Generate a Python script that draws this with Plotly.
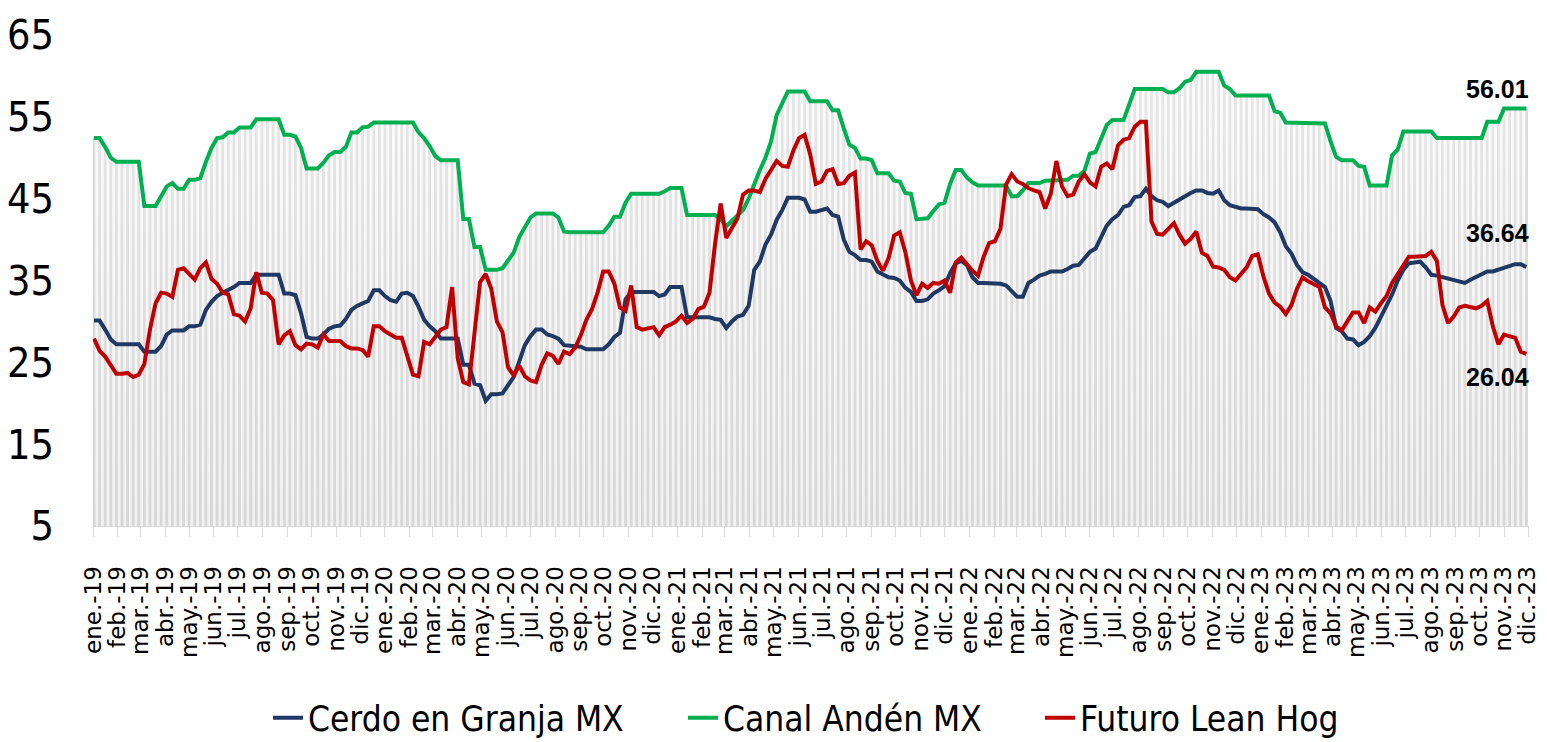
import pandas as pd
import plotly.graph_objects as go

# ---------------- data ----------------
start_date = "2019-01-02"
n_weeks = 257

canal_anden = [
    52.4, 52.4, 51.3, 50.0, 49.5, 49.5, 49.5, 49.5, 49.5, 44.1,
    44.1, 44.1, 45.3, 46.5, 46.9, 46.2, 46.2, 47.3, 47.3, 47.5,
    49.5, 51.2, 52.4, 52.5, 53.1, 53.1, 53.7, 53.7, 53.7, 54.7,
    54.7, 54.7, 54.7, 54.7, 52.8, 52.8, 52.6, 51.2, 48.7, 48.7,
    48.7, 49.4, 50.3, 50.7, 50.7, 51.3, 53.1, 53.1, 53.7, 53.8,
    54.3, 54.3, 54.3, 54.3, 54.3, 54.3, 54.3, 54.3, 53.1, 52.4,
    51.4, 50.2, 49.7, 49.7, 49.7, 49.7, 42.5, 42.5, 39.1, 39.1,
    36.3, 36.3, 36.3, 36.5, 37.4, 38.4, 40.3, 41.6, 42.7, 43.2,
    43.2, 43.2, 43.2, 42.7, 41.0, 40.9, 40.9, 40.9, 40.9, 40.9,
    40.9, 40.9, 41.7, 42.8, 42.8, 44.5, 45.6, 45.6, 45.6, 45.6,
    45.6, 45.6, 45.9, 46.3, 46.3, 46.3, 43.0, 43.0, 43.0, 43.0,
    43.0, 43.0, 42.5, 41.6, 42.3, 43.0, 43.6, 45.0, 46.8, 48.5,
    50.0, 52.0, 55.2, 56.7, 58.1, 58.1, 58.1, 58.1, 56.9, 56.9,
    56.9, 56.9, 55.8, 55.8, 53.6, 51.6, 51.2, 49.9, 49.9, 49.7,
    48.1, 48.1, 48.1, 47.2, 47.1, 45.7, 45.6, 42.5, 42.5, 42.6,
    43.5, 44.3, 44.5, 46.8, 48.5, 48.5, 47.6, 47.0, 46.6, 46.6,
    46.6, 46.6, 46.6, 46.6, 45.3, 45.3, 46.0, 46.9, 46.9, 46.9,
    47.2, 47.2, 47.2, 47.2, 47.3, 47.8, 47.8, 48.4, 50.5, 50.7,
    52.5, 54.0, 54.6, 54.6, 54.6, 56.5, 58.4, 58.4, 58.4, 58.4,
    58.4, 58.4, 58.0, 58.0, 58.5, 59.3, 59.5, 60.5, 60.5, 60.5,
    60.5, 60.5, 58.8, 58.4, 57.6, 57.6, 57.6, 57.6, 57.6, 57.6,
    57.6, 55.7, 55.5, 54.3, 54.3, 54.3, 54.3, 54.3, 54.3, 54.3,
    54.2, 52.0, 50.1, 49.7, 49.7, 49.7, 49.0, 48.9, 46.6, 46.6,
    46.6, 46.6, 50.3, 51.0, 53.2, 53.2, 53.2, 53.2, 53.2, 53.2,
    52.4, 52.4, 52.4, 52.4, 52.4, 52.4, 52.4, 52.4, 52.4, 54.4,
    54.4, 54.4, 56.01, 56.01, 56.01, 56.01, 56.01,
]

cerdo_granja = [
    30.1, 30.1, 29.0, 27.8, 27.2, 27.2, 27.2, 27.2, 27.2, 26.3,
    26.3, 26.3, 27.0, 28.4, 28.9, 28.9, 28.9, 29.4, 29.4, 29.6,
    31.4, 32.4, 33.1, 33.5, 33.8, 34.2, 34.7, 34.7, 34.7, 35.7,
    35.7, 35.7, 35.7, 35.7, 33.4, 33.4, 33.2, 31.0, 28.1, 27.9,
    27.9, 28.4, 29.1, 29.4, 29.5, 30.3, 31.4, 31.9, 32.2, 32.5,
    33.8, 33.8, 33.1, 32.6, 32.4, 33.4, 33.5, 33.1, 31.8, 30.2,
    29.4, 28.8, 27.9, 27.9, 27.9, 27.9, 24.7, 24.7, 22.4, 22.2,
    20.3, 21.1, 21.1, 21.2, 22.2, 23.2, 25.1, 27.1, 28.2, 29.0,
    29.0, 28.4, 28.2, 27.9, 27.1, 27.0, 26.9, 26.9, 26.6, 26.6,
    26.6, 26.6, 27.2, 28.1, 28.6, 32.7, 33.6, 33.6, 33.6, 33.6,
    33.6, 33.1, 33.3, 34.2, 34.2, 34.2, 30.5, 30.5, 30.5, 30.5,
    30.5, 30.3, 30.2, 29.2, 30.0, 30.6, 30.8, 31.9, 36.3, 37.3,
    39.4, 40.6, 42.4, 43.6, 45.1, 45.1, 45.1, 44.9, 43.4, 43.4,
    43.6, 43.8, 43.0, 42.8, 40.0, 38.5, 38.1, 37.5, 37.5, 37.3,
    36.1, 35.8, 35.4, 35.3, 35.0, 34.1, 33.6, 32.5, 32.5, 32.7,
    33.4, 33.8, 34.3, 35.9, 37.1, 37.4, 36.9, 35.4, 34.7, 34.7,
    34.7, 34.6, 34.6, 34.4, 33.7, 33.0, 33.0, 34.7, 35.1, 35.6,
    35.8, 36.1, 36.1, 36.1, 36.4, 36.8, 36.9, 37.7, 38.5, 38.9,
    40.3, 41.7, 42.5, 43.0, 44.0, 44.2, 45.2, 45.3, 46.2, 45.3,
    44.8, 44.6, 44.1, 44.5, 45.0, 45.4, 45.7, 46.0, 46.0, 45.7,
    45.6, 46.0, 44.8, 44.2, 44.0, 43.8, 43.8, 43.8, 43.7, 43.1,
    42.7, 42.1, 40.9, 39.2, 38.3, 36.9, 36.0, 35.7, 35.2, 34.8,
    34.2, 32.5, 29.2, 28.8, 27.9, 27.8, 27.1, 27.5, 28.2, 29.2,
    30.5, 31.8, 33.3, 35.0, 36.3, 37.1, 37.2, 37.3, 36.6, 35.7,
    35.6, 35.4, 35.2, 35.0, 34.8, 34.7, 35.1, 35.4, 35.8, 36.1,
    36.1, 36.3, 36.5, 36.8, 37.0, 37.0, 36.64,
]

futuro_lean_hog = [
    27.9, 26.4, 25.7, 24.6, 23.6, 23.6, 23.7, 23.2, 23.5, 24.8,
    29.0, 32.2, 33.5, 33.4, 33.0, 36.3, 36.5, 35.8, 35.1, 36.5,
    37.2, 35.2, 34.6, 33.5, 33.3, 30.9, 30.7, 30.0, 31.6, 36.0,
    33.5, 33.4, 32.6, 27.2, 28.3, 28.8, 27.1, 26.6, 27.3, 27.2,
    26.8, 28.4, 27.6, 27.6, 27.6, 27.0, 26.7, 26.7, 26.5, 25.7,
    29.4, 29.4, 28.8, 28.4, 28.0, 28.0, 25.9, 23.5, 23.3, 27.5,
    27.2, 28.2, 29.0, 29.3, 34.2, 25.5, 22.6, 22.3, 28.5, 34.8,
    35.8, 34.0, 30.0, 28.7, 24.4, 23.4, 24.6, 23.3, 22.8, 22.6,
    24.7, 26.1, 25.8, 24.8, 26.3, 26.0, 26.8, 28.3, 30.2, 31.5,
    33.5, 36.1, 36.1, 34.6, 31.7, 31.3, 34.4, 29.3, 29.0, 29.1,
    29.3, 28.3, 29.3, 29.6, 30.0, 30.7, 29.8, 30.3, 31.5, 31.8,
    33.5, 39.5, 44.4, 40.2, 41.5, 42.6, 45.5, 46.0, 46.0, 45.8,
    47.4, 48.6, 49.6, 49.0, 48.9, 50.9, 52.4, 52.8, 50.4, 46.8,
    47.1, 48.4, 48.6, 46.8, 46.9, 47.8, 48.2, 38.8, 39.8, 39.3,
    37.4, 36.2, 37.7, 40.5, 40.9, 38.5, 35.0, 33.2, 34.6, 34.1,
    34.7, 34.6, 35.0, 33.5, 37.2, 37.8, 37.0, 36.2, 35.6, 37.9,
    39.6, 39.8, 41.3, 46.7, 48.0, 47.1, 46.8, 46.3, 46.0, 45.8,
    43.8, 45.6, 49.6, 46.5, 45.3, 45.5, 47.1, 48.0, 47.0, 46.5,
    48.9, 49.3, 48.6, 51.5, 52.2, 52.4, 53.8, 54.4, 54.4, 42.2,
    40.7, 40.6, 41.3, 42.0, 40.6, 39.5, 40.1, 41.0, 38.4, 38.0,
    36.7, 36.6, 36.3, 35.4, 35.0, 35.8, 36.6, 38.0, 38.2, 35.5,
    33.4, 32.3, 31.8, 30.9, 32.0, 34.0, 35.4, 34.9, 34.6, 34.2,
    31.7, 31.0, 29.4, 28.9, 30.0, 31.1, 31.1, 29.8, 31.7, 31.2,
    32.2, 33.1, 34.7, 35.7, 36.9, 37.9, 37.9, 37.9, 38.0, 38.5,
    37.4, 32.0, 29.8, 30.6, 31.7, 31.9, 31.7, 31.6, 31.9, 32.5,
    29.4, 27.2, 28.4, 28.2, 28.0, 26.3, 26.04,
]

series_names = ["Cerdo en Granja MX", "Canal Andén MX", "Futuro Lean Hog"]
month_abbr = ["ene.", "feb.", "mar.", "abr.", "may.", "jun.",
              "jul.", "ago.", "sep.", "oct.", "nov.", "dic."]
years = [2019, 2020, 2021, 2022, 2023]
y_ticks = [5, 15, 25, 35, 45, 55, 65]

assert len(canal_anden) == n_weeks
assert len(cerdo_granja) == n_weeks
assert len(futuro_lean_hog) == n_weeks

dates = pd.date_range(start_date, periods=n_weeks, freq="7D")
tick_vals = [pd.Timestamp(year=y, month=m + 1, day=1) for y in years for m in range(12)]
tick_text = [f"{month_abbr[m]}-{str(y)[2:]}" for y in years for m in range(12)]

# ---------------- styling ----------------
W, H = 1547, 742
L, R, T, B = 93, 18, 35, 216
NARROW = "Liberation Sans Narrow, DejaVu Sans Condensed, sans-serif"
C_BLUE, C_GREEN, C_RED = "#1F3864", "#00B050", "#C00000"

fig = go.Figure()

# grey striped columns (Canal Andén as bars)
fig.add_trace(go.Bar(
    x=dates, y=canal_anden, marker=dict(color="#d4d4d4", line=dict(width=0)),
    showlegend=False, hoverinfo="skip",
))
# soft gradient veil under the green line
fig.add_trace(go.Scatter(
    x=dates, y=canal_anden, mode="lines", line=dict(width=0, color="rgba(0,0,0,0)"),
    fill="tozeroy",
    fillgradient=dict(type="vertical",
                      colorscale=[[0, "rgba(220,220,220,0.4)"], [1, "rgba(250,250,250,0.5)"]],
                      start=5, stop=61),
    showlegend=False, hoverinfo="skip",
))

fig.add_trace(go.Scatter(x=dates, y=cerdo_granja, mode="lines", name=series_names[0],
                         line=dict(color=C_BLUE, width=4), legend="legend"))
fig.add_trace(go.Scatter(x=dates, y=canal_anden, mode="lines", name=series_names[1],
                         line=dict(color=C_GREEN, width=4), legend="legend2"))
fig.add_trace(go.Scatter(x=dates, y=futuro_lean_hog, mode="lines", name=series_names[2],
                         line=dict(color=C_RED, width=4), legend="legend3"))

# end-value labels
for vals, ysh in [(canal_anden, 20), (cerdo_granja, 34), (futuro_lean_hog, -23)]:
    fig.add_annotation(
        x=dates[-1], y=vals[-1], text=f"{vals[-1]:.2f}", showarrow=False,
        xanchor="right", yanchor="middle", xshift=5, yshift=ysh,
        font=dict(family="Liberation Sans, Arial, sans-serif", size=25, color="#000000", weight="bold"),
    )

legend_font = dict(family=NARROW, size=35, color="#000000")
def legend_at(px):
    return dict(x=px / W, y=1 - 718 / H, xref="container", yref="container",
                xanchor="left", yanchor="middle", orientation="h",
                font=legend_font, bgcolor="rgba(0,0,0,0)", itemwidth=30)

fig.update_layout(
    width=W, height=H,
    margin=dict(l=L, r=R, t=T, b=B, autoexpand=False),
    paper_bgcolor="white", plot_bgcolor="white",
    bargap=0.5,
    legend=legend_at(268),
    legend2=legend_at(683),
    legend3=legend_at(1040),
    xaxis=dict(
        type="date", automargin=False,
        range=["2018-12-31 18:00", "2023-12-02 06:00"],
        tickmode="array", tickvals=tick_vals, ticktext=tick_text,
        tickangle=-90, ticks="outside", ticklen=10, tickwidth=1, tickcolor="#d9d9d9",
        showline=True, linecolor="#d9d9d9", linewidth=1,
        showgrid=False, zeroline=False,
        tickfont=dict(family="DejaVu Sans, Verdana, sans-serif", size=23, color="#000000"),
        ticklabelstandoff=20,
    ),
    yaxis=dict(
        range=[5, 65], tickmode="array", tickvals=y_ticks, automargin=False,
        showgrid=False, zeroline=False, showline=False, ticks="",
        tickfont=dict(family=NARROW, size=41, color="#000000"),
        ticklabelstandoff=38,
    ),
)

fig.write_html("out.html", config={"displayModeBar": False},
               post_script="document.body.style.margin='0';document.body.style.overflow='hidden';")
